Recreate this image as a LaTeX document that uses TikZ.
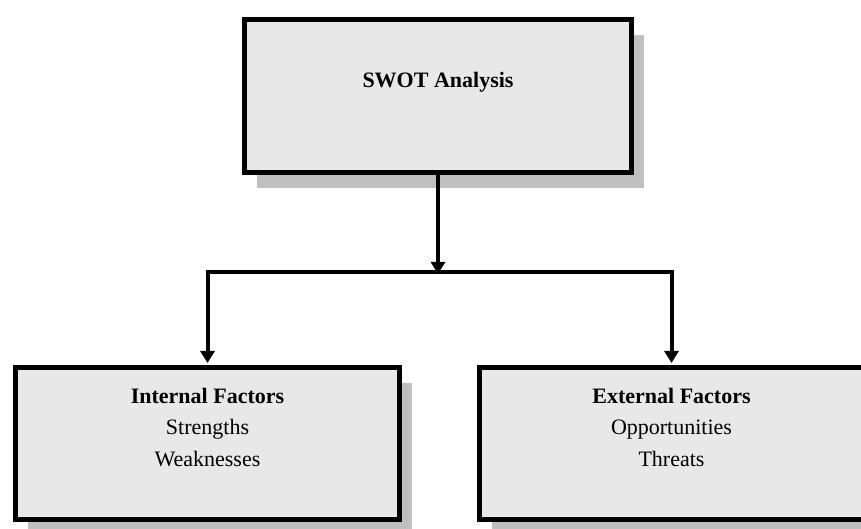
\documentclass[tikz,border=0pt]{standalone}
\usepackage{fontspec}
\setmainfont{Liberation Serif}
\usetikzlibrary{arrows.meta,positioning,shadows}

\begin{document}
\begin{tikzpicture}[
    x=1pt, y=1pt,
    factorbox/.style={rectangle, draw=black, line width=5pt, fill=black!9, minimum width=384pt, minimum height=152pt, text centered, align=center, font=\fontsize{22}{31.5}\selectfont, drop shadow={shadow xshift=12pt, shadow yshift=-16pt, fill=black!25, opacity=1}},
    arrow/.style={line width=4pt, shorten >=2pt, -{Triangle[width=14pt, length=12pt]}}
]
    \useasboundingbox (0,0) rectangle (861,529);
    \node[factorbox, minimum width=387pt, minimum height=153pt] (swot) at (438,433) {\textbf{SWOT Analysis}\\[-8pt]\strut};
    \coordinate (split) at (438,257);
    \node[factorbox] (internal) at (207.5,85.5) {\textbf{Internal Factors}\\Strengths\\Weaknesses\\[-8pt]\strut};
    \node[factorbox] (external) at (671.5,85.5) {\textbf{External Factors}\\Opportunities\\Threats\\[-8pt]\strut};

    \draw[arrow, shorten >=-2pt] (swot) -- (split);
    \draw[arrow] (split) -| (internal);
    \draw[arrow] (split) -| (external);
\end{tikzpicture}
\end{document}
